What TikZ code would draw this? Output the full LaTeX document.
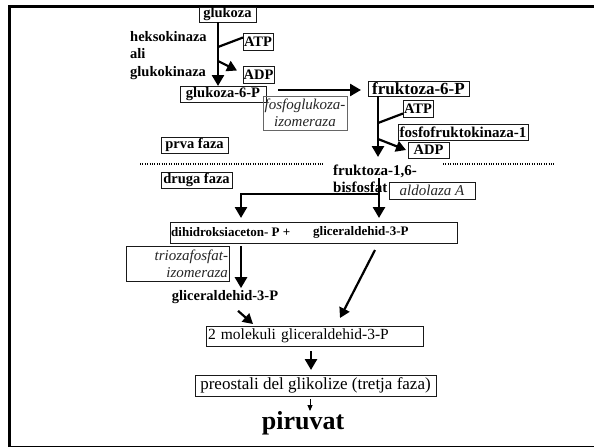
\documentclass[tikz,border=0pt]{standalone}
\usepackage{fontspec}
\setmainfont{Liberation Serif}
\usetikzlibrary{arrows.meta}
\begin{document}
\begin{tikzpicture}[x=1pt,y=-1pt,
  bb/.style={font=\fontsize{14.5}{17.5}\selectfont\bfseries},
  itx/.style={font=\fontsize{15}{17}\selectfont\itshape, text=black!85},
  bx/.style={draw=black!90, line width=0.8pt, anchor=north west, inner sep=0pt, outer sep=0pt},
  arrA/.style={line width=2.6pt, -{Triangle[width=12pt,length=11pt]}},
  arrB/.style={line width=2.2pt, -{Triangle[width=11pt,length=10pt]}},
  lineC/.style={line width=2.2pt},
  arrS/.style={line width=0.9pt, -{Triangle[width=5pt,length=6pt]}},
  dots/.style={line width=1.3pt, dash pattern=on 1pt off 1.4pt}]
\useasboundingbox (0,0) rectangle (594,447);
\fill[white] (0,0) rectangle (594,447);
% frame
\draw[line width=3pt] (9,447) -- (9,6) -- (594,6);
\draw[line width=1pt] (9,446) -- (594,446);
% nodes
\node[bx,bb,minimum width=57pt,minimum height=15pt,text depth=3pt,text height=9pt] (glu) at (199,7) {glukoza};
\node[bb,anchor=north west,align=left,inner sep=0pt] (hk) at (130,31) {heksokinaza\\ali\\glukokinaza};
\node[bx,bb,minimum width=30pt,minimum height=17pt] (atp1) at (243,33) {ATP};
\node[bx,bb,minimum width=31pt,minimum height=17pt] (adp1) at (243,66) {ADP};
\node[bx,bb,minimum width=86pt,minimum height=16pt] (g6p) at (180,86) {glukoza-6-P};
\node[bx,itx,draw=black!60,minimum width=84pt,minimum height=34pt,align=center] (fgi) at (263,96) {fosfoglukoza-\\izomeraza};
\node[bx,font=\fontsize{17}{20}\selectfont\bfseries,minimum width=101pt,minimum height=15pt] (f6p) at (368,81) {fruktoza-6-P};
\node[bx,bb,minimum width=30pt,minimum height=17pt] (atp2) at (403,100) {ATP};
\node[bx,font=\fontsize{15}{18}\selectfont\bfseries,minimum width=130pt,minimum height=16pt] (pfk) at (398,124) {fosfofruktokinaza-1};
\node[bx,bb,minimum width=41pt,minimum height=16pt] (adp2) at (408,142) {ADP};
\node[bx,bb,minimum width=67pt,minimum height=16pt] (prva) at (161,137) {prva faza};
\node[bx,bb,minimum width=71pt,minimum height=16pt] (druga) at (161,172) {druga faza};
\node[font=\fontsize{15}{17}\selectfont\bfseries,anchor=north west,align=left,inner sep=0pt] (fbp) at (333,165) {fruktoza-1,6-\\bisfosfat};
\node[bx,itx,minimum width=86pt,minimum height=17pt] (ald) at (389,182) {aldolaza A};
\node[bx,minimum width=287pt,minimum height=21pt] (dh) at (170,222) {};
\node[font=\fontsize{13}{15}\selectfont\bfseries,anchor=west,inner sep=0pt] (dhap) at ([xshift=1pt]dh.west) {dihidroksiaceton- P +};
\node[font=\fontsize{13}{15}\selectfont\bfseries,anchor=west,inner sep=0pt] (gap) at ([xshift=143pt]dh.west) {gliceraldehid-3-P};
\node[bx,itx,text width=101pt,inner xsep=1pt,minimum height=35pt,align=right] (tpi) at (126,246) {triozafosfat-\\izomeraza};
\node[bb,inner sep=0pt] (g3p) at (225,297) {gliceraldehid-3-P};
\node[bx,font=\fontsize{15.5}{18}\selectfont,text width=213pt,inner xsep=2pt,minimum height=20pt,align=left] (mol) at (206,326) {2 molekuli gliceraldehid-3-P};
\node[bx,font=\fontsize{17}{20}\selectfont,minimum width=241pt,minimum height=21pt] (pre) at (195,375) {preostali del glikolize (tretja faza)};
\node[font=\fontsize{26}{30}\selectfont\bfseries,inner sep=0pt] (pir) at (303,423) {piruvat};
% dotted separators
\draw[dots] (140,164) -- (323,164);
\draw[dots] (443,164) -- (555,164);
% connectors
\coordinate (t1) at ([xshift=-9.5pt]glu.south);
\draw[arrA] (t1) -- (t1 |- g6p.north);
\coordinate (j1) at (218,47);
\coordinate (j2) at (218,61);
\draw[lineC] (j1) -- ([yshift=4pt]atp1.west);
\draw[arrB] (j2) -- ([shift={(-6pt,4pt)}]adp1.west);
\draw[arrA] ([shift={(12pt,4pt)}]g6p.east) -- ([shift={(-7pt,-1.5pt)}]f6p.west);
\coordinate (t2) at ([xshift=10pt]f6p.south west);
\draw[arrA,shorten >=8pt] (t2) -- (t2 |- fbp.north);
\coordinate (j3) at (378,123);
\coordinate (j4) at (378,139);
\draw[lineC] (j3) -- ([yshift=-5pt]atp2.west);
\draw[arrB] (j4) -- ([xshift=-2pt]adp2.west);
\coordinate (j5) at (379,178);
\coordinate (j6) at (379,194);
\coordinate (k3) at ([xshift=71pt]dh.north west);
\draw[arrA,shorten >=4pt] (j5) -- (j5 |- dh.north);
\draw[arrA,shorten >=4pt] (j6) -| (k3);
\coordinate (k4) at ([shift={(71pt,-3pt)}]dh.south west);
\draw[arrA,shorten >=2pt] (k4) -- (k4 |- g3p.north);
\coordinate (k5) at ([shift={(205pt,-7pt)}]dh.south west);
\draw[arrB] (k5) -- ([shift={(134pt,8pt)}]mol.north west);
\draw[arrB] ([shift={(13pt,-7pt)}]g3p.south) -- ([shift={(47pt,2pt)}]mol.north west);
\coordinate (k6) at ([shift={(-3.5pt,-5pt)}]mol.south);
\draw[arrA,shorten >=5pt] (k6) -- (k6 |- pre.north);
\coordinate (k7) at ([shift={(-5.5pt,-3pt)}]pre.south);
\draw[arrS] (k7) -- (k7 |- pir.north);
\end{tikzpicture}
\end{document}
